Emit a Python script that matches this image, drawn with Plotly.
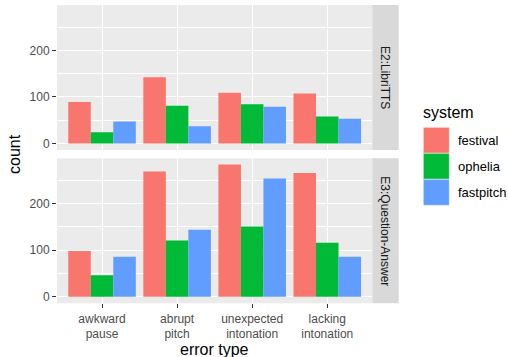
import plotly.graph_objects as go

categories = ["awkward pause", "abrupt pitch", "unexpected intonation", "lacking intonation"]
tick_labels = ["awkward<br>pause", "abrupt<br>pitch", "unexpected<br>intonation", "lacking<br>intonation"]
systems = ["festival", "ophelia", "fastpitch"]
colors = ["#F8766D", "#00BA38", "#619CFF"]
facets = ["E2:LibriTTS", "E3:Question-Answer"]

e2_festival = [89, 142, 109, 107]
e2_ophelia = [24, 81, 84, 58]
e2_fastpitch = [47, 37, 79, 53]
e3_festival = [98, 269, 284, 266]
e3_ophelia = [46, 121, 151, 116]
e3_fastpitch = [86, 144, 254, 86]

panel_data = [
    [e2_festival, e2_ophelia, e2_fastpitch],
    [e3_festival, e3_ophelia, e3_fastpitch],
]

W, H = 508, 357
FONT = "Liberation Sans, Arial, sans-serif"

def px(x):
    return x / W

def py(y):
    return 1 - y / H

fig = go.Figure()
for p, series in enumerate(panel_data):
    xa = "x" if p == 0 else "x2"
    ya = "y" if p == 0 else "y2"
    for name, vals, col in zip(systems, series, colors):
        fig.add_trace(go.Bar(
            x=categories, y=vals, name=name, marker=dict(color=col, line=dict(width=0)),
            xaxis=xa, yaxis=ya, showlegend=False, offsetgroup=name,
        ))

panel_x = [57, 372.3]
panels_y = [(5, 150), (158.3, 303.3)]
yrange = [-14.2, 297.5]

common_y = dict(
    range=yrange, tickvals=[0, 100, 200], ticks="outside", ticklen=4, tickwidth=1,
    tickcolor="#333333", showgrid=True, gridcolor="white", gridwidth=1,
    minor=dict(tickvals=[50, 150, 250], showgrid=True, gridcolor="white", gridwidth=0.5, ticks=""),
    zeroline=False, showline=False, tickfont=dict(family=FONT, size=12, color="#4D4D4D"),
    fixedrange=True,
)
common_x = dict(
    type="category", categoryorder="array", categoryarray=categories,
    range=[-0.6, 3.6], showgrid=True, gridcolor="white", gridwidth=1,
    zeroline=False, showline=False, domain=[px(panel_x[0]), px(panel_x[1])],
    tickvals=categories, ticktext=tick_labels,
    tickfont=dict(family=FONT, size=12, color="#4D4D4D"), fixedrange=True,
)

fig.update_layout(
    width=W, height=H,
    margin=dict(l=0, r=0, t=0, b=0),
    paper_bgcolor="white", plot_bgcolor="#EBEBEB",
    barmode="group", bargap=0.1, bargroupgap=0,
    font=dict(family=FONT),
    xaxis=dict(common_x, anchor="y", showticklabels=False, ticks=""),
    yaxis=dict(common_y, anchor="x", domain=[py(panels_y[0][1]), py(panels_y[0][0])]),
    xaxis2=dict(common_x, anchor="y2", ticks="outside", ticklen=4, tickwidth=1, tickcolor="#333333"),
    yaxis2=dict(common_y, anchor="x2", domain=[py(panels_y[1][1]), py(panels_y[1][0])]),
)

shapes = []
annotations = []
# facet strips
for (y0, y1), label in zip(panels_y, facets):
    shapes.append(dict(type="rect", xref="paper", yref="paper",
                       x0=px(372.3), x1=px(398.7), y0=py(y1), y1=py(y0),
                       fillcolor="#D9D9D9", line=dict(width=0), layer="below"))
    annotations.append(dict(xref="paper", yref="paper", x=px(385.5), y=py((y0 + y1) / 2),
                            text=label, textangle=90, showarrow=False,
                            font=dict(family=FONT, size=12, color="#1A1A1A"),
                            xanchor="center", yanchor="middle"))

# axis titles
annotations.append(dict(xref="paper", yref="paper", x=px(214.5), y=py(349.5), text="error type",
                        showarrow=False, font=dict(family=FONT, size=16, color="black"),
                        xanchor="center", yanchor="middle"))
annotations.append(dict(xref="paper", yref="paper", x=px(14), y=py(154), text="count",
                        textangle=-90, showarrow=False, font=dict(family=FONT, size=16, color="black"),
                        xanchor="center", yanchor="middle"))

# legend
annotations.append(dict(xref="paper", yref="paper", x=px(421), y=py(112), text="system",
                        showarrow=False, font=dict(family=FONT, size=16, color="black"),
                        xanchor="left", yanchor="middle"))
key_top = 127.3
key = 26
for i, (name, col) in enumerate(zip(systems, colors)):
    y0 = key_top + i * key
    shapes.append(dict(type="rect", xref="paper", yref="paper",
                       x0=px(423.3), x1=px(449.3), y0=py(y0 + key), y1=py(y0),
                       fillcolor=col, line=dict(color="white", width=0.5)))
    annotations.append(dict(xref="paper", yref="paper", x=px(456), y=py(y0 + key / 2),
                            text=name, showarrow=False,
                            font=dict(family=FONT, size=13, color="black"),
                            xanchor="left", yanchor="middle"))

fig.update_layout(shapes=shapes, annotations=annotations)
fig.write_html("out.html", config={"displayModeBar": False},
               post_script="document.body.style.margin='0';document.body.style.padding='0';")
